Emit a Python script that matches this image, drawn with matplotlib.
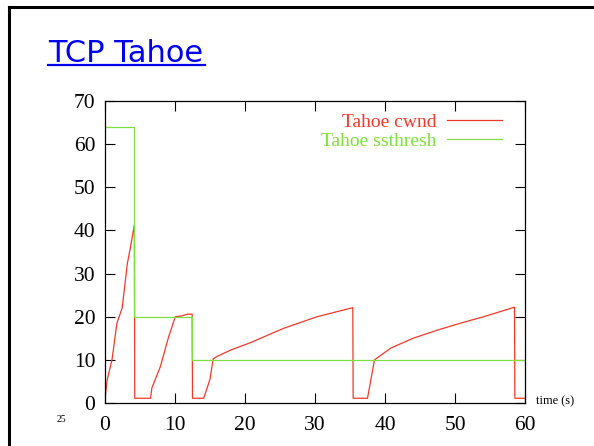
import numpy as np
import matplotlib
matplotlib.use("Agg")
import matplotlib.pyplot as plt
from matplotlib.lines import Line2D

# congestion window trace (time in s, cwnd in segments)
cwnd_t = [0, 0.3, 1.0, 1.7, 2.45, 3.2, 3.65, 4.2,
          4.25, 6.5, 6.7, 7.9, 9.1, 10.05, 11.0, 11.8, 12.45,
          12.5, 14.1, 15.0, 15.45, 16.0, 18.0, 20.8, 25.5, 30.3, 35.4,
          35.45, 37.5, 38.5, 40.8, 44.0, 47.5, 51.0, 54.1, 58.5,
          58.55, 60]
cwnd_v = [1, 5.3, 10, 18.5, 22, 32.4, 36.2, 41.3,
          1.1, 1.1, 3.5, 8.4, 15.4, 20, 20.2, 20.6, 20.6,
          1.1, 1.1, 5.5, 10.2, 10.8, 12.3, 14.0, 17.3, 20.0, 22.1,
          1.1, 1.1, 10, 12.7, 15.0, 16.9, 18.6, 20.0, 22.2,
          1.1, 1.1]

ssthresh_t = [0, 4.2, 4.2, 12.45, 12.45, 60]
ssthresh_v = [64, 64, 20, 20, 10, 10]

xticks = [0, 10, 20, 30, 40, 50, 60]
yticks = [0, 10, 20, 30, 40, 50, 60, 70]

red = "#ee3a2a"
green = "#7ee03a"
serif = "Liberation Serif"

fig = plt.figure(figsize=(5.94, 4.46), dpi=100)
W, H = 594, 446

# slide frame (top and left edges)
fig.add_artist(Line2D([9 / W, 1], [1 - 6.5 / H] * 2, color="black", lw=2.2))
fig.add_artist(Line2D([9 / W] * 2, [0, 1 - 6.5 / H], color="black", lw=2.2))

# slide title
fig.text(48 / W, 1 - 62 / H, "TCP Tahoe", color="#0000ee",
         fontsize=22, family="DejaVu Sans", va="baseline")
fig.add_artist(Line2D([48 / W, 205 / W], [1 - 65 / H] * 2, color="#0000ee", lw=1.6))

ax = fig.add_axes([105 / W, 43 / H, 420 / W, 302 / H])
ax.plot(cwnd_t, cwnd_v, color=red, lw=0.9, label="Tahoe cwnd")
ax.plot(ssthresh_t, ssthresh_v, color=green, lw=0.9, label="Tahoe ssthresh")

ax.set_xlim(0, 60)
ax.set_ylim(0, 70)
ax.set_xticks(xticks)
ax.set_yticks(yticks)
ax.tick_params(direction="in", length=7, width=0.8, top=True, right=True,
               labelsize=15.5, pad=7)
ax.tick_params(axis="x", pad=9)
for lab in ax.get_xticklabels() + ax.get_yticklabels():
    lab.set_family(serif)
for sp in ax.spines.values():
    sp.set_linewidth(0.9)

leg = ax.legend(loc="upper right", bbox_to_anchor=(0.945, 0.958), frameon=False,
                markerfirst=False, prop={"family": serif, "size": 14},
                handlelength=2.8, borderaxespad=0, borderpad=0,
                labelspacing=0.06, handletextpad=0.55)
for txt, c in zip(leg.get_texts(), [red, green]):
    txt.set_color(c)
    txt.set_ha("right")

fig.text(536 / W, 1 - 401 / H, "time (s)", family=serif, fontsize=9, va="center")
fig.text(57 / W, 1 - 420 / H, "25", family=serif, fontsize=7, va="center")

fig.savefig("out.png", dpi=100)
